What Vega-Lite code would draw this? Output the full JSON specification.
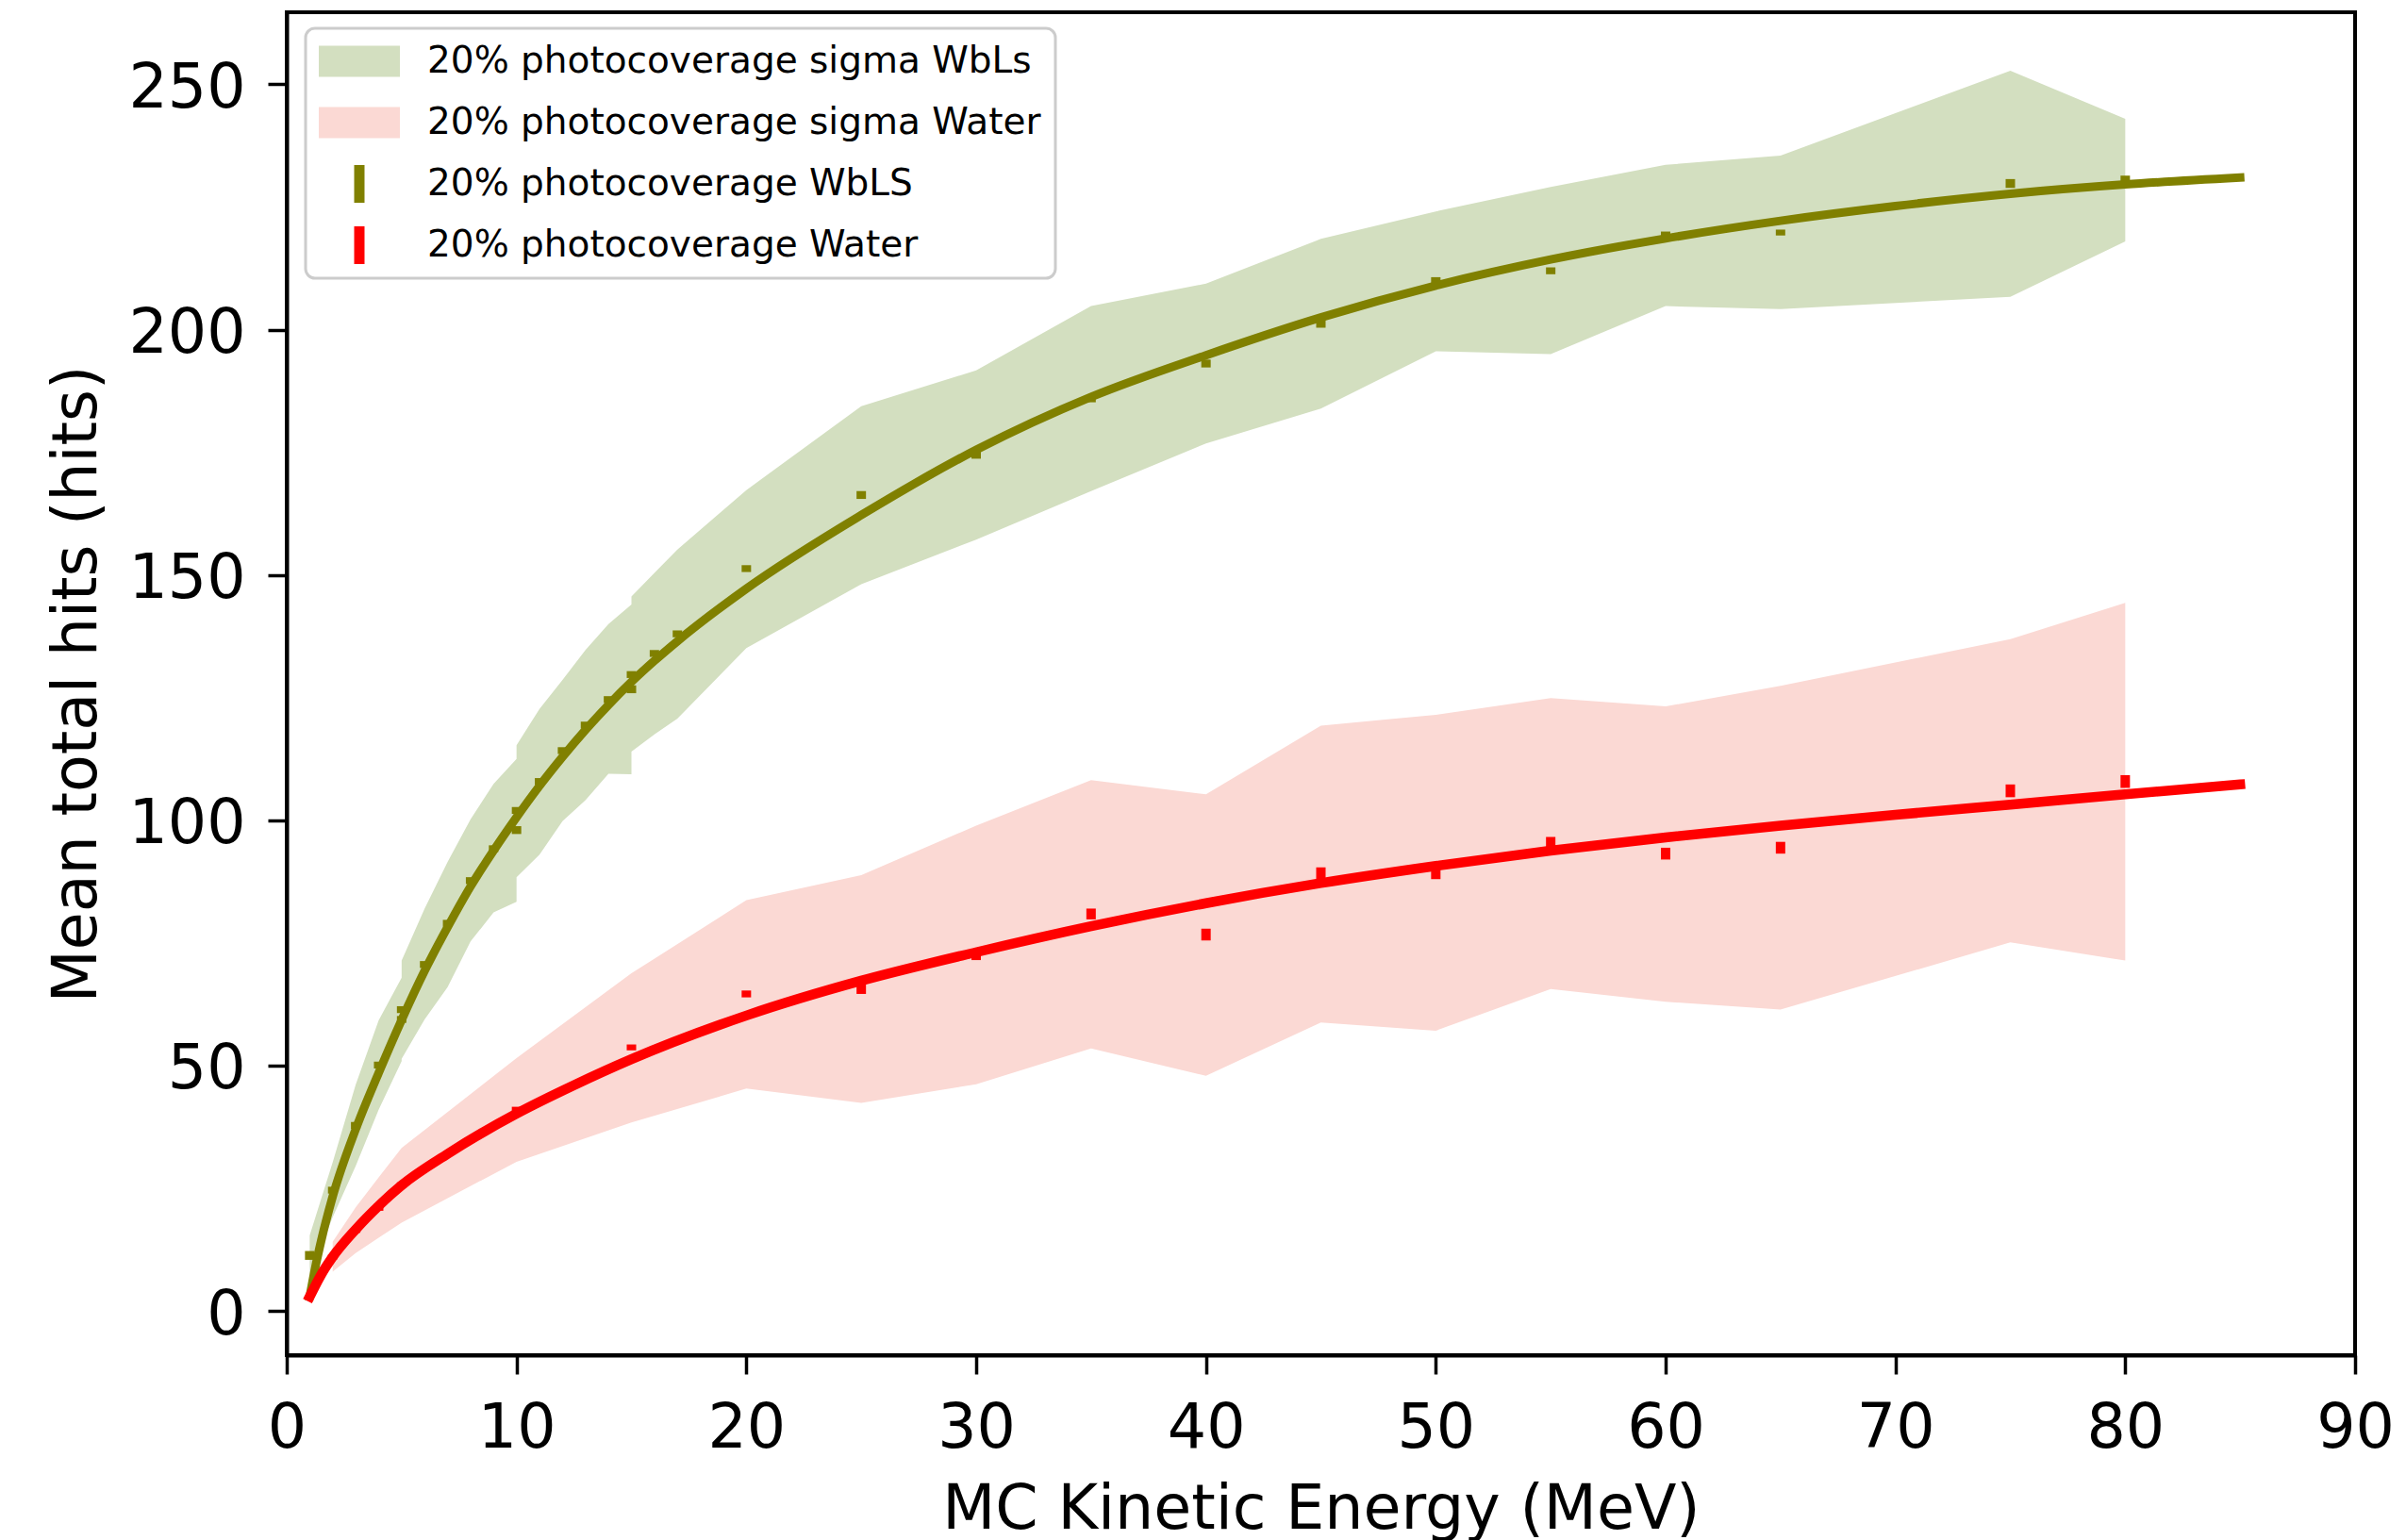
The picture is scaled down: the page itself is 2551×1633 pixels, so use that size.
{
  "$schema": "https://vega.github.io/schema/vega-lite/v6.json",
  "width": 2193,
  "height": 1424,
  "autosize": {"type": "none"},
  "padding": {"left": 304, "top": 13, "right": 54, "bottom": 196},
  "background": "white",
  "config": {
    "view": {"stroke": "black", "strokeWidth": 4},
    "font": "DejaVu Sans",
    "axis": {
      "domainColor": "black", "domainWidth": 4, "tickColor": "black", "tickWidth": 3.5, "tickSize": 20,
      "labelFont": "DejaVu Sans", "labelFontSize": 65, "labelColor": "black",
      "titleFont": "DejaVu Sans", "titleFontSize": 65, "titleFontWeight": "normal", "titleColor": "black",
      "grid": false
    },
    "legend": {"strokeWidth": 3}
  },
  "datasets": {
    "bands": [
      {"series": "20% photocoverage sigma WbLs", "E": 1, "lo": 7.1, "hi": 15.4},
      {"series": "20% photocoverage sigma WbLs", "E": 2, "lo": 19.1, "hi": 30.3},
      {"series": "20% photocoverage sigma WbLs", "E": 3, "lo": 29.5, "hi": 46.1},
      {"series": "20% photocoverage sigma WbLs", "E": 4, "lo": 41.0, "hi": 59.2},
      {"series": "20% photocoverage sigma WbLs", "E": 5, "lo": 50.9, "hi": 67.9},
      {"series": "20% photocoverage sigma WbLs", "E": 5, "lo": 51.4, "hi": 71.4},
      {"series": "20% photocoverage sigma WbLs", "E": 6, "lo": 59.4, "hi": 82.0},
      {"series": "20% photocoverage sigma WbLs", "E": 7, "lo": 66.0, "hi": 91.5},
      {"series": "20% photocoverage sigma WbLs", "E": 8, "lo": 75.3, "hi": 100.2},
      {"series": "20% photocoverage sigma WbLs", "E": 9, "lo": 81.2, "hi": 107.4},
      {"series": "20% photocoverage sigma WbLs", "E": 10, "lo": 83.4, "hi": 112.5},
      {"series": "20% photocoverage sigma WbLs", "E": 10, "lo": 88.4, "hi": 115.3},
      {"series": "20% photocoverage sigma WbLs", "E": 11, "lo": 93.0, "hi": 122.7},
      {"series": "20% photocoverage sigma WbLs", "E": 12, "lo": 99.8, "hi": 128.6},
      {"series": "20% photocoverage sigma WbLs", "E": 13, "lo": 104.1, "hi": 134.7},
      {"series": "20% photocoverage sigma WbLs", "E": 14, "lo": 109.5, "hi": 140.0},
      {"series": "20% photocoverage sigma WbLs", "E": 15, "lo": 109.4, "hi": 144.0},
      {"series": "20% photocoverage sigma WbLs", "E": 15, "lo": 114.0, "hi": 145.6},
      {"series": "20% photocoverage sigma WbLs", "E": 16, "lo": 117.5, "hi": 150.4},
      {"series": "20% photocoverage sigma WbLs", "E": 17, "lo": 120.7, "hi": 155.2},
      {"series": "20% photocoverage sigma WbLs", "E": 20, "lo": 135.1, "hi": 167.3},
      {"series": "20% photocoverage sigma WbLs", "E": 25, "lo": 148.1, "hi": 184.4},
      {"series": "20% photocoverage sigma WbLs", "E": 30, "lo": 157.2, "hi": 191.7},
      {"series": "20% photocoverage sigma WbLs", "E": 35, "lo": 167.1, "hi": 204.8},
      {"series": "20% photocoverage sigma WbLs", "E": 40, "lo": 176.8, "hi": 209.4},
      {"series": "20% photocoverage sigma WbLs", "E": 45, "lo": 183.9, "hi": 218.5},
      {"series": "20% photocoverage sigma WbLs", "E": 50, "lo": 195.6, "hi": 224.1},
      {"series": "20% photocoverage sigma WbLs", "E": 55, "lo": 195.0, "hi": 229.1},
      {"series": "20% photocoverage sigma WbLs", "E": 60, "lo": 204.8, "hi": 233.6},
      {"series": "20% photocoverage sigma WbLs", "E": 65, "lo": 204.2, "hi": 235.5},
      {"series": "20% photocoverage sigma WbLs", "E": 75, "lo": 206.7, "hi": 252.8},
      {"series": "20% photocoverage sigma WbLs", "E": 80, "lo": 218.0, "hi": 243.0},
      {"series": "20% photocoverage sigma Water", "E": 2, "lo": 8.0, "hi": 14.1},
      {"series": "20% photocoverage sigma Water", "E": 3, "lo": 11.8, "hi": 21.1},
      {"series": "20% photocoverage sigma Water", "E": 4, "lo": 14.9, "hi": 27.2},
      {"series": "20% photocoverage sigma Water", "E": 5, "lo": 18.0, "hi": 33.2},
      {"series": "20% photocoverage sigma Water", "E": 10, "lo": 30.4, "hi": 51.5},
      {"series": "20% photocoverage sigma Water", "E": 15, "lo": 38.4, "hi": 68.8},
      {"series": "20% photocoverage sigma Water", "E": 20, "lo": 45.3, "hi": 83.7},
      {"series": "20% photocoverage sigma Water", "E": 25, "lo": 42.4, "hi": 88.8},
      {"series": "20% photocoverage sigma Water", "E": 30, "lo": 46.2, "hi": 98.9},
      {"series": "20% photocoverage sigma Water", "E": 35, "lo": 53.5, "hi": 108.2},
      {"series": "20% photocoverage sigma Water", "E": 40, "lo": 47.9, "hi": 105.3},
      {"series": "20% photocoverage sigma Water", "E": 45, "lo": 58.8, "hi": 119.3},
      {"series": "20% photocoverage sigma Water", "E": 50, "lo": 57.1, "hi": 121.5},
      {"series": "20% photocoverage sigma Water", "E": 55, "lo": 65.6, "hi": 124.9},
      {"series": "20% photocoverage sigma Water", "E": 60, "lo": 63.0, "hi": 123.2},
      {"series": "20% photocoverage sigma Water", "E": 65, "lo": 61.4, "hi": 127.4},
      {"series": "20% photocoverage sigma Water", "E": 75, "lo": 75.1, "hi": 136.9},
      {"series": "20% photocoverage sigma Water", "E": 80, "lo": 71.4, "hi": 144.3}
    ],
    "points": [
      {"series": "20% photocoverage WbLS", "E": 1, "lo": 10.4, "hi": 12.2},
      {"series": "20% photocoverage WbLS", "E": 2, "lo": 23.9, "hi": 25.3},
      {"series": "20% photocoverage WbLS", "E": 3, "lo": 37.1, "hi": 38.5},
      {"series": "20% photocoverage WbLS", "E": 4, "lo": 49.4, "hi": 50.8},
      {"series": "20% photocoverage WbLS", "E": 5, "lo": 58.7, "hi": 60.1},
      {"series": "20% photocoverage WbLS", "E": 5, "lo": 60.7, "hi": 62.1},
      {"series": "20% photocoverage WbLS", "E": 6, "lo": 69.9, "hi": 71.3},
      {"series": "20% photocoverage WbLS", "E": 7, "lo": 78.3, "hi": 79.7},
      {"series": "20% photocoverage WbLS", "E": 8, "lo": 87.0, "hi": 88.4},
      {"series": "20% photocoverage WbLS", "E": 9, "lo": 93.5, "hi": 94.9},
      {"series": "20% photocoverage WbLS", "E": 10, "lo": 97.2, "hi": 98.8},
      {"series": "20% photocoverage WbLS", "E": 10, "lo": 101.3, "hi": 102.7},
      {"series": "20% photocoverage WbLS", "E": 11, "lo": 107.2, "hi": 108.6},
      {"series": "20% photocoverage WbLS", "E": 12, "lo": 113.5, "hi": 114.9},
      {"series": "20% photocoverage WbLS", "E": 13, "lo": 118.7, "hi": 120.1},
      {"series": "20% photocoverage WbLS", "E": 14, "lo": 123.9, "hi": 125.3},
      {"series": "20% photocoverage WbLS", "E": 15, "lo": 125.9, "hi": 127.5},
      {"series": "20% photocoverage WbLS", "E": 15, "lo": 129.0, "hi": 130.4},
      {"series": "20% photocoverage WbLS", "E": 16, "lo": 133.3, "hi": 134.7},
      {"series": "20% photocoverage WbLS", "E": 17, "lo": 137.3, "hi": 138.7},
      {"series": "20% photocoverage WbLS", "E": 20, "lo": 150.6, "hi": 152.0},
      {"series": "20% photocoverage WbLS", "E": 25, "lo": 165.5, "hi": 167.1},
      {"series": "20% photocoverage WbLS", "E": 30, "lo": 173.7, "hi": 175.3},
      {"series": "20% photocoverage WbLS", "E": 35, "lo": 185.2, "hi": 186.6},
      {"series": "20% photocoverage WbLS", "E": 40, "lo": 192.3, "hi": 193.9},
      {"series": "20% photocoverage WbLS", "E": 45, "lo": 200.4, "hi": 202.0},
      {"series": "20% photocoverage WbLS", "E": 50, "lo": 209.3, "hi": 210.7},
      {"series": "20% photocoverage WbLS", "E": 55, "lo": 211.3, "hi": 212.7},
      {"series": "20% photocoverage WbLS", "E": 60, "lo": 218.6, "hi": 220.0},
      {"series": "20% photocoverage WbLS", "E": 65, "lo": 219.2, "hi": 220.4},
      {"series": "20% photocoverage WbLS", "E": 75, "lo": 228.9, "hi": 230.7},
      {"series": "20% photocoverage WbLS", "E": 80, "lo": 229.8, "hi": 231.4},
      {"series": "20% photocoverage Water", "E": 2, "lo": 10.5, "hi": 11.5},
      {"series": "20% photocoverage Water", "E": 3, "lo": 15.9, "hi": 16.9},
      {"series": "20% photocoverage Water", "E": 4, "lo": 20.4, "hi": 21.8},
      {"series": "20% photocoverage Water", "E": 5, "lo": 25.0, "hi": 26.2},
      {"series": "20% photocoverage Water", "E": 10, "lo": 40.4, "hi": 41.6},
      {"series": "20% photocoverage Water", "E": 15, "lo": 53.1, "hi": 54.3},
      {"series": "20% photocoverage Water", "E": 20, "lo": 63.9, "hi": 65.3},
      {"series": "20% photocoverage Water", "E": 25, "lo": 64.6, "hi": 66.6},
      {"series": "20% photocoverage Water", "E": 30, "lo": 71.5, "hi": 73.5},
      {"series": "20% photocoverage Water", "E": 35, "lo": 79.8, "hi": 82.0},
      {"series": "20% photocoverage Water", "E": 40, "lo": 75.5, "hi": 77.9},
      {"series": "20% photocoverage Water", "E": 45, "lo": 88.0, "hi": 90.4},
      {"series": "20% photocoverage Water", "E": 50, "lo": 88.0, "hi": 90.4},
      {"series": "20% photocoverage Water", "E": 55, "lo": 94.2, "hi": 96.6},
      {"series": "20% photocoverage Water", "E": 60, "lo": 92.0, "hi": 94.4},
      {"series": "20% photocoverage Water", "E": 65, "lo": 93.2, "hi": 95.6},
      {"series": "20% photocoverage Water", "E": 75, "lo": 104.7, "hi": 107.3},
      {"series": "20% photocoverage Water", "E": 80, "lo": 106.6, "hi": 109.2}
    ],
    "fits": [
      {"series": "20% photocoverage WbLS", "E": 1, "hits": 2.9},
      {"series": "20% photocoverage WbLS", "E": 1.25, "hits": 9.0},
      {"series": "20% photocoverage WbLS", "E": 1.5, "hits": 14.3},
      {"series": "20% photocoverage WbLS", "E": 2, "hits": 23.3},
      {"series": "20% photocoverage WbLS", "E": 3, "hits": 37.0},
      {"series": "20% photocoverage WbLS", "E": 4, "hits": 48.5},
      {"series": "20% photocoverage WbLS", "E": 5, "hits": 59.3},
      {"series": "20% photocoverage WbLS", "E": 6, "hits": 69.3},
      {"series": "20% photocoverage WbLS", "E": 7, "hits": 78.2},
      {"series": "20% photocoverage WbLS", "E": 8, "hits": 86.5},
      {"series": "20% photocoverage WbLS", "E": 9, "hits": 93.8},
      {"series": "20% photocoverage WbLS", "E": 10, "hits": 100.6},
      {"series": "20% photocoverage WbLS", "E": 11, "hits": 107.0},
      {"series": "20% photocoverage WbLS", "E": 12, "hits": 112.9},
      {"series": "20% photocoverage WbLS", "E": 13, "hits": 118.4},
      {"series": "20% photocoverage WbLS", "E": 14, "hits": 123.5},
      {"series": "20% photocoverage WbLS", "E": 15, "hits": 128.2},
      {"series": "20% photocoverage WbLS", "E": 16, "hits": 132.5},
      {"series": "20% photocoverage WbLS", "E": 17, "hits": 136.5},
      {"series": "20% photocoverage WbLS", "E": 20, "hits": 147.2},
      {"series": "20% photocoverage WbLS", "E": 25, "hits": 162.2},
      {"series": "20% photocoverage WbLS", "E": 30, "hits": 175.5},
      {"series": "20% photocoverage WbLS", "E": 35, "hits": 186.3},
      {"series": "20% photocoverage WbLS", "E": 40, "hits": 194.8},
      {"series": "20% photocoverage WbLS", "E": 45, "hits": 202.5},
      {"series": "20% photocoverage WbLS", "E": 50, "hits": 209.0},
      {"series": "20% photocoverage WbLS", "E": 55, "hits": 214.3},
      {"series": "20% photocoverage WbLS", "E": 60, "hits": 218.6},
      {"series": "20% photocoverage WbLS", "E": 65, "hits": 222.2},
      {"series": "20% photocoverage WbLS", "E": 70, "hits": 225.2},
      {"series": "20% photocoverage WbLS", "E": 75, "hits": 227.7},
      {"series": "20% photocoverage WbLS", "E": 80, "hits": 229.6},
      {"series": "20% photocoverage WbLS", "E": 85, "hits": 231.0},
      {"series": "20% photocoverage Water", "E": 1, "hits": 2.9},
      {"series": "20% photocoverage Water", "E": 1.5, "hits": 7.4},
      {"series": "20% photocoverage Water", "E": 2, "hits": 11.0},
      {"series": "20% photocoverage Water", "E": 3, "hits": 16.6},
      {"series": "20% photocoverage Water", "E": 4, "hits": 21.4},
      {"series": "20% photocoverage Water", "E": 5, "hits": 25.6},
      {"series": "20% photocoverage Water", "E": 7, "hits": 32.0},
      {"series": "20% photocoverage Water", "E": 10, "hits": 40.2},
      {"series": "20% photocoverage Water", "E": 12.5, "hits": 46.0},
      {"series": "20% photocoverage Water", "E": 15, "hits": 51.3},
      {"series": "20% photocoverage Water", "E": 20, "hits": 60.2},
      {"series": "20% photocoverage Water", "E": 25, "hits": 67.3},
      {"series": "20% photocoverage Water", "E": 30, "hits": 73.1},
      {"series": "20% photocoverage Water", "E": 35, "hits": 78.4},
      {"series": "20% photocoverage Water", "E": 40, "hits": 83.1},
      {"series": "20% photocoverage Water", "E": 45, "hits": 87.2},
      {"series": "20% photocoverage Water", "E": 50, "hits": 90.7},
      {"series": "20% photocoverage Water", "E": 55, "hits": 93.8},
      {"series": "20% photocoverage Water", "E": 60, "hits": 96.5},
      {"series": "20% photocoverage Water", "E": 65, "hits": 98.9},
      {"series": "20% photocoverage Water", "E": 70, "hits": 101.1},
      {"series": "20% photocoverage Water", "E": 75, "hits": 103.2},
      {"series": "20% photocoverage Water", "E": 80, "hits": 105.3},
      {"series": "20% photocoverage Water", "E": 85, "hits": 107.3}
    ]
  },
  "encoding": {
    "x": {
      "field": "E", "type": "quantitative",
      "scale": {"domain": [0, 90], "nice": false, "zero": false},
      "axis": {
        "values": [0, 10, 20, 30, 40, 50, 60, 70, 80, 90], "labelPadding": 26, "labelFlush": false, "labelOverlap": false,
        "title": "MC Kinetic Energy (MeV)", "titleBaseline": "alphabetic", "titleY": 183, "titleAlign": "center"
      }
    }
  },
  "layer": [
    {
      "data": {"name": "bands"},
      "mark": {"type": "area", "opacity": 1, "interpolate": "linear"},
      "encoding": {
        "y": {
          "field": "lo", "type": "quantitative",
          "scale": {"domain": [-9.03, 264.7], "nice": false, "zero": false},
          "axis": {
            "values": [0, 50, 100, 150, 200, 250], "labelPadding": 24, "labelOffset": 4,
            "title": "Mean total hits (hits)", "titleAngle": 270, "titleBaseline": "alphabetic",
            "titleX": -203, "titleY": 712, "titleAlign": "center"
          }
        },
        "y2": {"field": "hi"},
        "fill": {
          "field": "series", "type": "nominal",
          "scale": {"domain": ["20% photocoverage sigma WbLs", "20% photocoverage sigma Water"], "range": ["#d3dfc0", "#fbd9d4"]},
          "legend": null
        }
      }
    },
    {
      "data": {"name": "points"},
      "mark": {"type": "rule", "strokeWidth": 10, "strokeCap": "butt"},
      "encoding": {
        "y": {"field": "lo", "type": "quantitative"},
        "y2": {"field": "hi"},
        "stroke": {
          "field": "series", "type": "nominal",
          "scale": {"domain": ["20% photocoverage WbLS", "20% photocoverage Water"], "range": ["#808000", "#ff0000"]},
          "legend": null
        }
      }
    },
    {
      "data": {"name": "fits"},
      "mark": {"type": "line", "interpolate": "monotone", "strokeCap": "square"},
      "encoding": {
        "y": {"field": "hits", "type": "quantitative"},
        "stroke": {"field": "series", "type": "nominal", "legend": null},
        "strokeWidth": {
          "field": "series", "type": "nominal",
          "scale": {"domain": ["20% photocoverage WbLS", "20% photocoverage Water"], "range": [9, 10.5]},
          "legend": null
        }
      }
    },
    {
      "data": {"name": "points"},
      "transform": [{"filter": "datum.E < 0"}],
      "mark": {"type": "point", "filled": true, "opacity": 1},
      "encoding": {
        "y": {"field": "lo", "type": "quantitative"},
        "color": {
          "field": "series", "type": "nominal",
          "scale": {
            "domain": ["20% photocoverage sigma WbLs", "20% photocoverage sigma Water", "20% photocoverage WbLS", "20% photocoverage Water"],
            "range": ["#d3dfc0", "#fbd9d4", "#808000", "#ff0000"]
          },
          "legend": {
            "title": null, "orient": "none", "legendX": 20, "legendY": 17,
            "direction": "vertical", "columns": 1,
            "labelFont": "DejaVu Sans", "labelFontSize": 39, "labelColor": "black", "labelLimit": 2000,
            "labelOffset": 52, "symbolOffset": 22, "symbolSize": 1600, "symbolStrokeWidth": 0, "symbolOpacity": 1,
            "rowPadding": 25, "padding": 15,
            "strokeColor": "#cccccc", "fillColor": "white", "cornerRadius": 10
          }
        },
        "shape": {
          "field": "series", "type": "nominal",
          "scale": {
            "domain": ["20% photocoverage sigma WbLs", "20% photocoverage sigma Water", "20% photocoverage WbLS", "20% photocoverage Water"],
            "range": ["M-2.15,-0.825L2.15,-0.825L2.15,0.825L-2.15,0.825Z", "M-2.15,-0.825L2.15,-0.825L2.15,0.825L-2.15,0.825Z", "M-0.275,-1L0.275,-1L0.275,1L-0.275,1Z", "M-0.275,-1L0.275,-1L0.275,1L-0.275,1Z"]
          }
        }
      }
    }
  ]
}
